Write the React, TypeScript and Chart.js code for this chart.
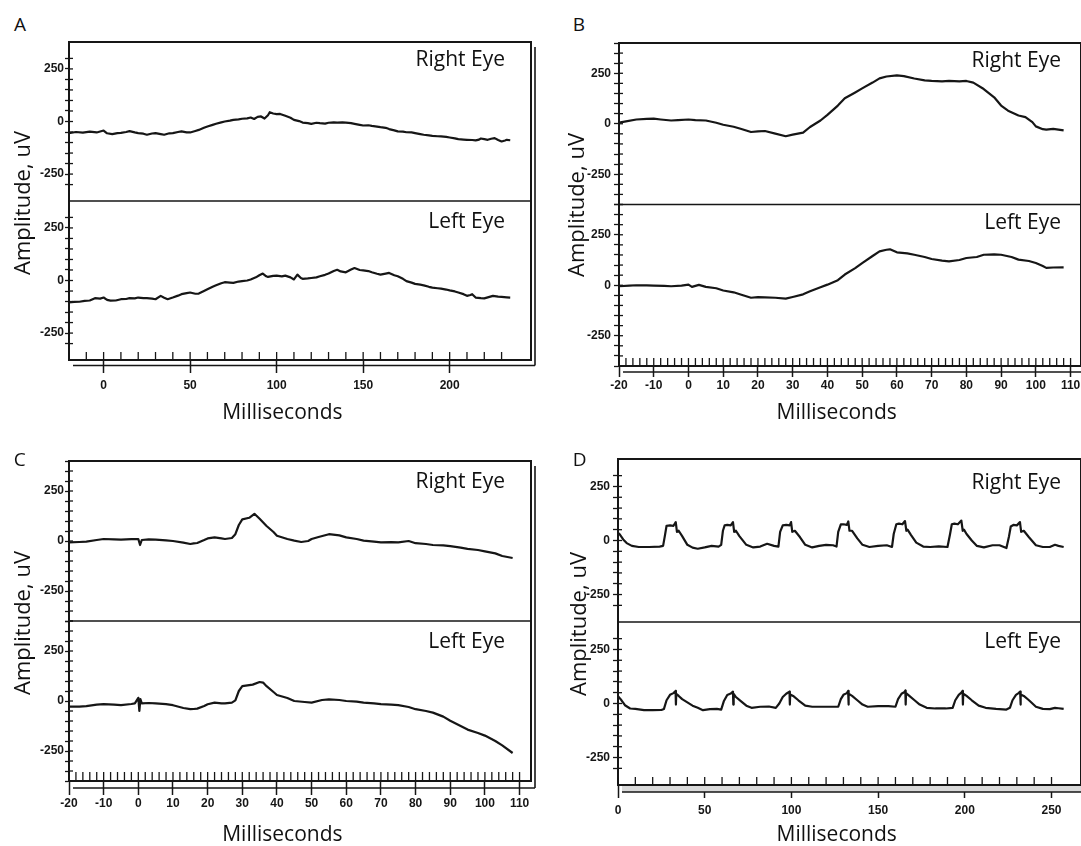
import React, { useEffect, useRef } from 'react';
import { Chart, registerables } from 'chart.js';
Chart.register(...registerables);

// ---------------- DATA ----------------
// Panel A (ms, uV)
const A_R_X = [-20,-16,-12,-8,-4,0,2,5,8,10,13,15,18,20,23,25,28,30,33,35,38,40,43,45,48,50,53,55,58,60,63,65,68,70,73,75,78,80,83,85,87,89,91,93,95,96,98,100,102,105,108,110,113,115,118,120,123,125,128,130,133,135,138,140,143,145,148,150,153,155,158,160,163,165,168,170,173,175,178,180,183,185,188,190,193,195,198,200,203,205,208,210,213,215,217,218,220,222,224,226,228,230,232,233,235];
const A_R = [-55,-50,-53,-48,-52,-43,-56,-60,-55,-54,-50,-46,-52,-55,-58,-63,-57,-55,-60,-63,-56,-55,-50,-47,-52,-52,-45,-40,-30,-24,-16,-11,-4,0,4,8,10,13,15,19,12,22,24,14,30,44,38,35,36,27,18,8,2,-5,-8,-11,-6,-8,-10,-6,-4,-5,-4,-5,-8,-11,-16,-19,-18,-21,-24,-27,-30,-36,-42,-47,-48,-51,-52,-55,-60,-63,-66,-68,-70,-71,-73,-76,-80,-84,-86,-87,-88,-90,-86,-81,-84,-87,-82,-79,-88,-95,-90,-87,-89];
const A_L_X = [-20,-17,-14,-11,-8,-5,-2,0,2,4,7,10,13,15,18,20,23,25,28,30,33,35,37,40,43,45,48,50,53,55,58,60,63,65,68,70,73,75,78,80,83,85,88,90,92,94,95,98,100,103,105,108,110,112,114,115,118,120,123,125,128,130,133,135,137,140,143,145,148,150,153,155,158,160,163,165,168,170,173,175,178,180,183,185,188,190,193,195,198,200,203,205,208,210,212,213,215,218,220,223,225,228,230,233,235];
const A_L = [-104,-102,-101,-97,-95,-84,-86,-81,-92,-96,-95,-89,-88,-84,-85,-81,-84,-84,-86,-89,-73,-82,-89,-81,-72,-65,-60,-57,-63,-62,-50,-42,-30,-23,-13,-8,-10,-11,-5,-3,0,5,15,25,33,20,17,22,23,20,23,15,5,28,12,8,10,12,15,20,27,33,45,51,43,39,52,59,50,48,45,39,32,28,33,36,25,20,8,-3,-10,-16,-20,-23,-30,-34,-37,-39,-43,-47,-52,-57,-65,-73,-69,-65,-81,-84,-85,-78,-73,-77,-78,-80,-81];

// Panel B
const B_R_X = [-20,-18,-15,-12,-10,-8,-5,-3,0,2,5,8,10,13,15,18,20,22,25,28,30,33,35,38,40,43,45,48,50,53,55,57,60,62,65,68,70,73,75,78,80,82,85,88,90,92,95,97,99,100,102,103,105,108];
const B_R = [5,12,21,24,25,21,16,18,21,18,16,5,-5,-15,-25,-41,-38,-36,-49,-62,-54,-44,-16,16,44,90,126,155,175,204,225,234,240,236,224,215,212,210,212,210,212,204,172,131,90,65,41,33,8,-13,-27,-29,-25,-33];
const B_L_X = [-20,-17,-15,-12,-10,-7,-5,-2,0,1,3,5,8,10,13,15,18,20,22,25,28,30,33,35,38,40,43,45,48,50,53,55,57,58,60,63,65,68,70,73,75,78,80,83,85,88,90,93,95,98,100,102,103,105,108];
const B_L = [-5,-2,0,-1,-2,-3,-5,-2,3,-8,2,-8,-15,-26,-35,-46,-62,-59,-60,-62,-66,-58,-45,-30,-10,3,25,53,85,110,145,168,176,178,163,158,151,140,130,122,118,125,135,140,151,153,151,140,127,120,110,95,86,88,89];

// Panel C
const C_R_X = [-20,-17,-15,-12,-10,-7,-5,-2,0,0.5,1,3,5,8,10,13,15,16,17,19,20,22,24,25,27,28,29,30,32,33.5,35,37,39,40,43,45,47,49,50,52,55,58,60,63,65,68,70,73,75,78,80,83,85,88,90,93,95,98,100,103,105,108];
const C_R = [-7,-5,-3,5,10,8,7,9,10,-20,5,8,7,3,0,-8,-15,-12,-10,5,13,18,13,10,15,34,80,108,116,136,111,75,45,26,10,2,-5,0,10,20,34,28,18,10,2,-3,-7,-6,-7,0,-11,-15,-20,-22,-26,-33,-39,-45,-52,-62,-75,-85];
const C_L_X = [-20,-17,-15,-12,-10,-7,-5,-2,-1,0,0.3,0.6,1,3,5,8,10,13,15,16,17,19,20,22,24,25,27,28,29,30,33,35,36,37,39,40,43,45,48,50,53,55,58,60,63,65,68,70,73,75,78,80,83,85,88,90,93,95,98,100,103,105,108];
const C_L = [-28,-28,-26,-18,-16,-18,-21,-15,-12,16,-49,10,-12,-10,-12,-16,-21,-35,-41,-40,-38,-25,-16,-8,-12,-12,-8,3,50,74,82,95,92,74,45,30,15,0,-5,-8,5,8,5,0,-3,-8,-12,-16,-18,-21,-30,-41,-50,-58,-78,-99,-125,-143,-160,-173,-200,-222,-260];

// Panel D
const D_R_X = [0,1,3,5,8,12,18,24,26,27,28,30,32,33.3,34,35,37,40,43,46,50,54,58,59.5,60.5,61.5,63,65,66.3,67,68,70,74,78,82,86,90,92.5,93.5,95,97,99,99.8,100.5,102,105,108,112,116,120,124,126,127,128.5,130,132,132.8,133.5,135,138,141,145,150,155,158,159,160.5,162,164,165.5,166.3,167,169,172,176,180,185,190,191.5,192.5,194,196,198,198.8,199.5,201,204,207,211,216,220,224,225.5,226.5,228,230,231.8,232.5,234,237,241,245,249,252,254,257];
const D_R = [35,28,5,-12,-25,-30,-30,-28,-25,20,68,70,68,85,40,45,20,-20,-33,-38,-32,-25,-28,-20,45,70,72,70,85,40,45,20,-20,-32,-28,-15,-25,-28,40,70,72,70,85,40,45,15,-20,-32,-25,-20,-22,-28,40,75,75,72,88,45,45,10,-20,-30,-25,-22,-30,30,75,78,75,90,45,50,25,-10,-28,-30,-27,-30,30,75,78,75,92,45,50,30,0,-25,-32,-22,-22,-35,20,65,72,70,85,40,45,15,-22,-30,-30,-20,-25,-30];
const D_L_X = [0,2,4,7,10,15,20,25,26.5,28,30,32,33.2,33.4,33.6,35,37,40,43,46,49,53,57,59.5,61,63,65,66.3,66.5,66.7,68,71,74,77,82,87,91,93,95,97,98.9,99.1,99.3,101,104,108,112,118,124,127,128.5,130,132,132.7,132.9,133.1,135,138,141,144,150,156,160,161.5,163.5,165,165.7,165.9,166.1,168,171,174,178,183,189,193,194.5,196.5,198,198.7,198.9,199.1,201,204,208,212,218,224,226,227.5,229.5,231,231.9,232.1,232.3,234,237,241,245,249,252,254,257];
const D_L = [34,15,-8,-23,-25,-31,-31,-30,-25,15,40,48,58,-5,45,35,20,5,-10,-20,-31,-26,-25,-28,10,39,46,55,-5,45,30,10,-10,-20,-15,-14,-20,0,30,45,55,-5,42,35,15,-10,-15,-15,-15,-15,20,40,48,58,-5,45,35,15,-5,-15,-12,-12,-15,20,45,52,60,-5,48,35,15,-5,-20,-23,-23,-20,15,40,50,58,-5,45,35,15,-10,-20,-25,-28,-20,15,40,48,55,-5,42,35,15,-15,-25,-26,-20,-22,-25];

const SERIES_NAMES = ['Right Eye', 'Left Eye'];
const Y_AXIS_TITLE = 'Amplitude, uV';
const X_AXIS_TITLE = 'Milliseconds';
const PANEL_LETTERS = ['A', 'B', 'C', 'D'];

// ---------------- STYLE / LAYOUT ----------------
const INK = '#161616';
const TICK_FONT = { family: "'Liberation Sans Narrow', 'Arial Narrow', 'Liberation Sans', sans-serif", size: 12, weight: 'bold' as const };
const TEXT_FONT = "'Open Sans', 'Noto Sans', sans-serif";

type PanelCfg = {
  letter: string;
  left: number; top: number; w: number; h: number;
  padRight: number; yW: number; xH: number;
  xMin: number; xMax: number; xMinor: number; xMajor: number;
  yLim: number;
  xTick: number; xPad: number; yTick: number; yPad: number;
  inLen: number; rulerGap: number; outer: boolean; band: boolean;
  rx: number[]; ry: number[]; lx: number[]; ly: number[];
  letterPos: [number, number];
  eyeRight: number; eyeR: number; eyeL: number;
  ampX: number; ampY: number;
  msX: number; msY: number;
};

const PANELS: PanelCfg[] = [
  { letter: PANEL_LETTERS[0], left: 29, top: 39, w: 510, h: 361, padRight: 8, yW: 40, xH: 40,
    xMin: -20, xMax: 247, xMinor: 10, xMajor: 50, yLim: 378, xTick: 13, xPad: 5, yTick: 4, yPad: 1,
    inLen: 8, rulerGap: 5.5, outer: true, band: false,
    rx: A_R_X, ry: A_R, lx: A_L_X, ly: A_L,
    letterPos: [14, 18.3], eyeRight: 505, eyeR: 58.8, eyeL: 220.8, ampX: 13.8, ampY: 203.3, msX: 282.4, msY: 412 },
  { letter: PANEL_LETTERS[1], left: 579, top: 40, w: 502, h: 366, padRight: 0, yW: 40, xH: 40,
    xMin: -20, xMax: 113, xMinor: 2, xMajor: 10, yLim: 400, xTick: 11, xPad: 1, yTick: 5, yPad: 3,
    inLen: 8, rulerGap: 6, outer: false, band: false,
    rx: B_R_X, ry: B_R, lx: B_L_X, ly: B_L,
    letterPos: [572.8, 18.3], eyeRight: 1061, eyeR: 59.2, eyeL: 221.3, ampX: 567.6, ampY: 205, msX: 836.7, msY: 412 },
  { letter: PANEL_LETTERS[2], left: 29, top: 458, w: 510, h: 363, padRight: 8, yW: 40, xH: 40,
    xMin: -20, xMax: 113.3, xMinor: 2, xMajor: 10, yLim: 400, xTick: 14, xPad: 1, yTick: 4, yPad: 1,
    inLen: 9, rulerGap: 7, outer: true, band: false,
    rx: C_R_X, ry: C_R, lx: C_L_X, ly: C_L,
    letterPos: [13.8, 453.3], eyeRight: 505, eyeR: 480.8, eyeL: 640.8, ampX: 13.8, ampY: 623.3, msX: 282.4, msY: 833.7 },
  { letter: PANEL_LETTERS[3], left: 578, top: 456, w: 503, h: 369, padRight: 0, yW: 40, xH: 40,
    xMin: 0, xMax: 267, xMinor: 10, xMajor: 50, yLim: 377, xTick: 13, xPad: 5, yTick: 5, yPad: 3,
    inLen: 8, rulerGap: 7, outer: false, band: true,
    rx: D_R_X, ry: D_R, lx: D_L_X, ly: D_L,
    letterPos: [572.8, 453.3], eyeRight: 1061, eyeR: 481.7, eyeL: 640.8, ampX: 569.3, ampY: 624, msX: 836.7, msY: 833.7 },
];

const isMult = (v: number, m: number) => Math.abs(v / m - Math.round(v / m)) < 1e-6;

function buildChart(canvas: HTMLCanvasElement, p: PanelCfg) {
  const pts = (xs: number[], ys: number[]) => xs.map((x, i) => ({ x, y: ys[i] }));
  const framePlugin = {
    id: 'frame',
    afterDraw(chart: any) {
      const { ctx, chartArea: a } = chart;
      const line = (x1: number, y1: number, x2: number, y2: number) => {
        ctx.beginPath(); ctx.moveTo(x1, y1); ctx.lineTo(x2, y2); ctx.stroke();
      };
      ctx.save();
      ctx.strokeStyle = INK;
      if (p.band) {
        ctx.fillStyle = '#d9d9d9';
        ctx.fillRect(a.left + 4, a.bottom + 1, a.right - a.left, p.rulerGap - 1);
      }
      ctx.lineWidth = 2;
      ctx.strokeRect(a.left, a.top, a.right - a.left, a.bottom - a.top);
      const yR = chart.scales.yR;
      ctx.lineWidth = 1.6;
      line(a.left, yR.bottom, a.right, yR.bottom);
      // inward ruler ticks
      ctx.lineWidth = 1.3;
      const xs = chart.scales.x;
      xs.ticks.forEach((t: any) => {
        if (isMult(t.value, p.xMinor)) {
          const px = xs.getPixelForValue(t.value);
          line(px, a.bottom, px, a.bottom - p.inLen);
        }
      });
      ['yR', 'yL'].forEach((id) => {
        const s = chart.scales[id];
        s.ticks.forEach((t: any) => {
          if (isMult(t.value, 50)) {
            const py = s.getPixelForValue(t.value);
            line(a.left, py, a.left + 4, py);
          }
        });
      });
      ctx.lineWidth = 1.6;
      line(a.left + 4, a.bottom + p.rulerGap, a.right + 4, a.bottom + p.rulerGap);
      if (p.outer) {
        line(a.right + 4, a.top + 5, a.right + 4, a.bottom + p.rulerGap);
      }
      ctx.restore();
    },
  };

  const yAxis = (weight: number) => ({
    type: 'linear' as const,
    position: 'left' as const,
    stack: 'eyes',
    stackWeight: 1,
    weight,
    min: -p.yLim,
    max: p.yLim,
    afterFit: (s: any) => { s.width = p.yW; s.paddingTop = 0; s.paddingBottom = 0; },
    border: { display: true, color: INK, width: 1.6 },
    grid: {
      drawOnChartArea: false,
      tickLength: p.yTick,
      tickWidth: 1.3,
      tickColor: (c: any) => (c.tick && isMult(c.tick.value, 50) ? INK : 'rgba(0,0,0,0)'),
    },
    ticks: {
      stepSize: 50,
      autoSkip: false,
      padding: p.yPad,
      font: TICK_FONT,
      color: INK,
      callback: (v: any) => (isMult(Number(v), 250) ? String(Math.round(Number(v))) : ''),
    },
  });

  return new Chart(canvas, {
    type: 'line',
    data: {
      datasets: [
        { label: SERIES_NAMES[0], data: pts(p.rx, p.ry), yAxisID: 'yR', borderColor: INK, borderWidth: 2.2,
          pointRadius: 0, tension: 0, fill: false, borderJoinStyle: 'round' },
        { label: SERIES_NAMES[1], data: pts(p.lx, p.ly), yAxisID: 'yL', borderColor: INK, borderWidth: 2.2,
          pointRadius: 0, tension: 0, fill: false, borderJoinStyle: 'round' },
      ],
    },
    options: {
      responsive: false,
      maintainAspectRatio: false,
      animation: false,
      events: [],
      layout: { padding: { top: 3, right: p.padRight, left: 0, bottom: 0 } },
      plugins: { legend: { display: false }, tooltip: { enabled: false }, title: { display: false } },
      scales: {
        x: {
          type: 'linear',
          position: 'bottom',
          min: p.xMin,
          max: p.xMax,
          afterFit: (s: any) => { s.height = p.xH; s.paddingLeft = 0; s.paddingRight = 0; },
          border: { display: true, color: INK, width: 1.6 },
          grid: {
            drawOnChartArea: false,
            tickLength: p.xTick,
            tickWidth: 1.5,
            tickColor: (c: any) => (c.tick && isMult(c.tick.value, p.xMajor) ? INK : 'rgba(0,0,0,0)'),
          },
          ticks: {
            stepSize: p.xMinor,
            autoSkip: false,
            maxRotation: 0,
            padding: p.xPad,
            font: TICK_FONT,
            color: INK,
            callback: (v: any) => (isMult(Number(v), p.xMajor) ? String(Math.round(Number(v))) : ''),
          },
        },
        yR: yAxis(1),
        yL: yAxis(0),
      },
    } as any,
    plugins: [framePlugin],
  });
}

function Panel({ p }: { p: PanelCfg }) {
  const ref = useRef<HTMLCanvasElement>(null);
  useEffect(() => {
    const chart = buildChart(ref.current as HTMLCanvasElement, p);
    return () => chart.destroy();
  }, [p]);
  return (
    <canvas ref={ref} width={p.w} height={p.h}
      style={{ position: 'absolute', left: p.left, top: p.top, width: p.w, height: p.h }} />
  );
}

function Labels({ p }: { p: PanelCfg }) {
  const base: React.CSSProperties = { position: 'absolute', fontFamily: TEXT_FONT, color: '#111', whiteSpace: 'nowrap' };
  return (
    <>
      <div style={{ ...base, left: p.letterPos[0], top: p.letterPos[1] - 4.6, fontSize: 19, lineHeight: '20px' }}>{p.letter}</div>
      <div style={{ ...base, left: p.eyeRight - 200, width: 200, textAlign: 'right', top: p.eyeR - 12.65, fontSize: 21, lineHeight: '24px' }}>{SERIES_NAMES[0]}</div>
      <div style={{ ...base, left: p.eyeRight - 200, width: 200, textAlign: 'right', top: p.eyeL - 12.65, fontSize: 21, lineHeight: '24px' }}>{SERIES_NAMES[1]}</div>
      <div style={{ ...base, left: p.ampX + 7.2 - 100, width: 200, textAlign: 'center', top: p.ampY - 13, fontSize: 22, lineHeight: '26px', transform: 'rotate(-90deg)' }}>{Y_AXIS_TITLE}</div>
      <div style={{ ...base, left: p.msX - 100, width: 200, textAlign: 'center', top: p.msY - 12.65, fontSize: 21, lineHeight: '24px' }}>{X_AXIS_TITLE}</div>
    </>
  );
}

export default function App() {
  return (
    <div style={{ position: 'absolute', left: 0, top: 0, width: 1081, height: 846, overflow: 'hidden', background: '#fff' }}>
      {PANELS.map((p) => <Panel key={p.letter} p={p} />)}
      {PANELS.map((p) => <Labels key={'l' + p.letter} p={p} />)}
    </div>
  );
}
